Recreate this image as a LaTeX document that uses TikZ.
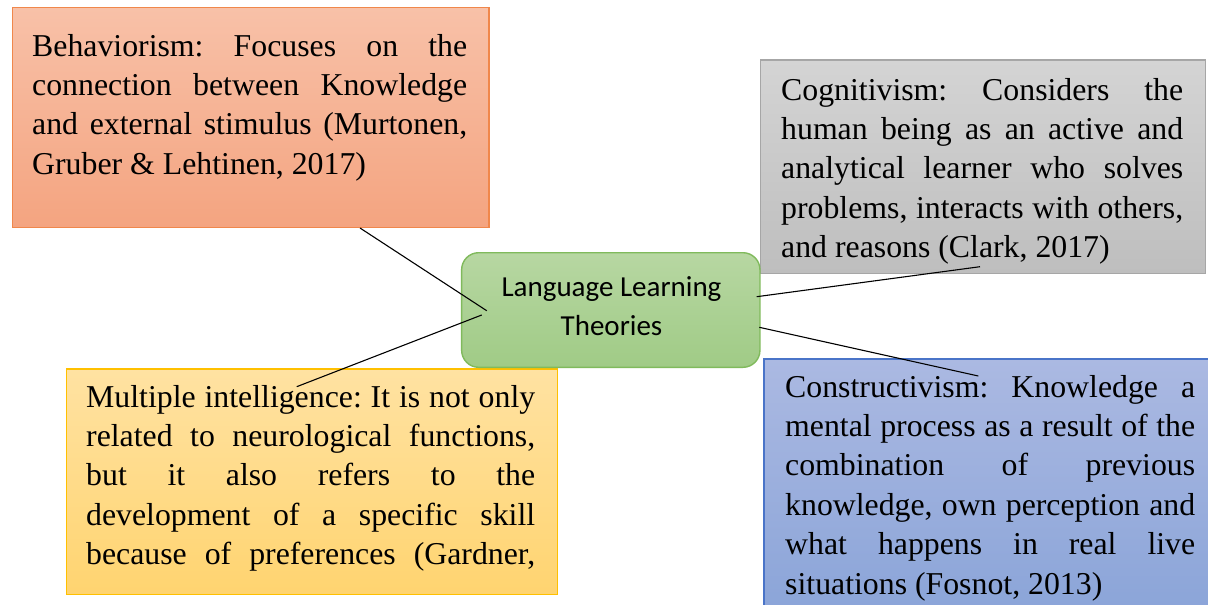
\documentclass[tikz,border=0pt]{standalone}
\usepackage{fontspec}
\setmainfont{Liberation Serif}
\newfontfamily\calibri{Carlito}
\setlength\parindent{0pt}
\frenchspacing
\newdimen\jw
\newcommand\jline[1]{\hbox to \jw{\strut #1}}
\newcommand\lline[1]{\hbox to \jw{\strut #1\hfill}}
\newcommand\jsetup[1]{\jw=#1\relax\spaceskip=0.25em plus 1fil minus 0.08em\relax\xspaceskip=\spaceskip}
\definecolor{orTop}{RGB}{248,193,168}
\definecolor{orBot}{RGB}{244,164,128}
\definecolor{orLine}{RGB}{240,135,75}
\definecolor{grTop}{RGB}{212,212,212}
\definecolor{grBot}{RGB}{190,190,190}
\definecolor{grLine}{RGB}{166,166,166}
\definecolor{gnTop}{RGB}{183,215,162}
\definecolor{gnBot}{RGB}{160,203,134}
\definecolor{gnLine}{RGB}{128,186,92}
\definecolor{yeTop}{RGB}{255,226,162}
\definecolor{yeBot}{RGB}{255,212,112}
\definecolor{yeLine}{RGB}{255,192,0}
\definecolor{blTop}{RGB}{171,185,226}
\definecolor{blBot}{RGB}{138,164,216}
\definecolor{blLine}{RGB}{74,116,200}
\tikzset{
  box/.style={rectangle, inner sep=0pt, anchor=north west, line width=1.4pt},
  bodytext/.style={inner sep=0pt, anchor=north west, align=left,
    font=\fontsize{31.8}{39.4}\selectfont},
  hub/.style={rectangle, rounded corners=17pt, line width=1.4pt, draw=gnLine,
    top color=gnTop, bottom color=gnBot},
  hubtext/.style={inner sep=0pt, anchor=north, align=center,
    font=\calibri\fontsize{29}{38.3}\selectfont},
  link/.style={draw=black, line width=1.1pt}
}
\begin{document}
\begin{tikzpicture}[x=1pt,y=-1pt]
\useasboundingbox (0,0) rectangle (1208,605);
\clip (0,0) rectangle (1208,605);
\fill[white] (0,0) rectangle (1208,605);

% boxes
\node[box, draw=orLine, top color=orTop, bottom color=orBot,
  minimum width=476.6pt, minimum height=220pt] (behbox) at (11.7,6.7) {};
\node[box, draw=grLine, top color=grTop, bottom color=grBot,
  minimum width=445pt, minimum height=213.4pt] (cogbox) at (760,59.3) {};
\node[box, draw=yeLine, top color=yeTop, bottom color=yeBot,
  minimum width=491pt, minimum height=225.7pt] (mulbox) at (65.7,368.3) {};
\node[box, draw=blLine, top color=blTop, bottom color=blBot,
  minimum width=460pt, minimum height=260pt] (conbox) at (763.3,358.3) {};

% texts
\node[bodytext, text width=435pt] (behtext) at (32,28.4) {\jsetup{435pt}%
\jline{Behaviorism: Focuses on the}
\jline{connection between Knowledge}
\jline{and external stimulus (Murtonen,}
\lline{Gruber \& Lehtinen, 2017)}};

\node[bodytext, text width=402pt] (cogtext) at (781,72.4) {\jsetup{402pt}%
\jline{Cognitivism: Considers the}
\jline{human being as an active and}
\jline{analytical learner who solves}
\jline{problems, interacts with others,}
\lline{and reasons (Clark, 2017)}};

\node[bodytext, text width=449pt] (multext) at (86,379.4) {\jsetup{449pt}%
\jline{Multiple intelligence: It is not only}
\jline{related to neurological functions,}
\jline{but it also refers to the}
\jline{development of a specific skill}
\jline{because of preferences (Gardner,}};

\node[bodytext, text width=410pt] (context) at (785,369.4) {\jsetup{410pt}%
\jline{Constructivism: Knowledge a}
\jline{mental process as a result of the}
\jline{combination of previous}
\jline{knowledge, own perception and}
\jline{what happens in real live}
\lline{situations (Fosnot, 2013)}};

% hub
\node[hub, minimum width=298.3pt, minimum height=114.6pt] (hub) at (610.8,310) {};
\node[hubtext] (hubtext) at (611.5,269.9) {\strut Language Learning\\Theories};

% connector end points
\coordinate (hbw) at (486.7,310.7);
\coordinate (hmw) at (481.7,315);
\coordinate (hce) at (756.7,296.7);
\coordinate (hke) at (759.3,327.3);
\coordinate (bend) at (360,228);
\coordinate (mend) at (296.7,386.7);
\coordinate (cend) at (980,266.7);
\coordinate (kend) at (978.3,376);

\draw[link] (bend) -- (hbw);
\draw[link] (hmw) -- (mend);
\draw[link] (hce) -- (cend);
\draw[link] (hke) -- (kend);
\end{tikzpicture}
\end{document}
